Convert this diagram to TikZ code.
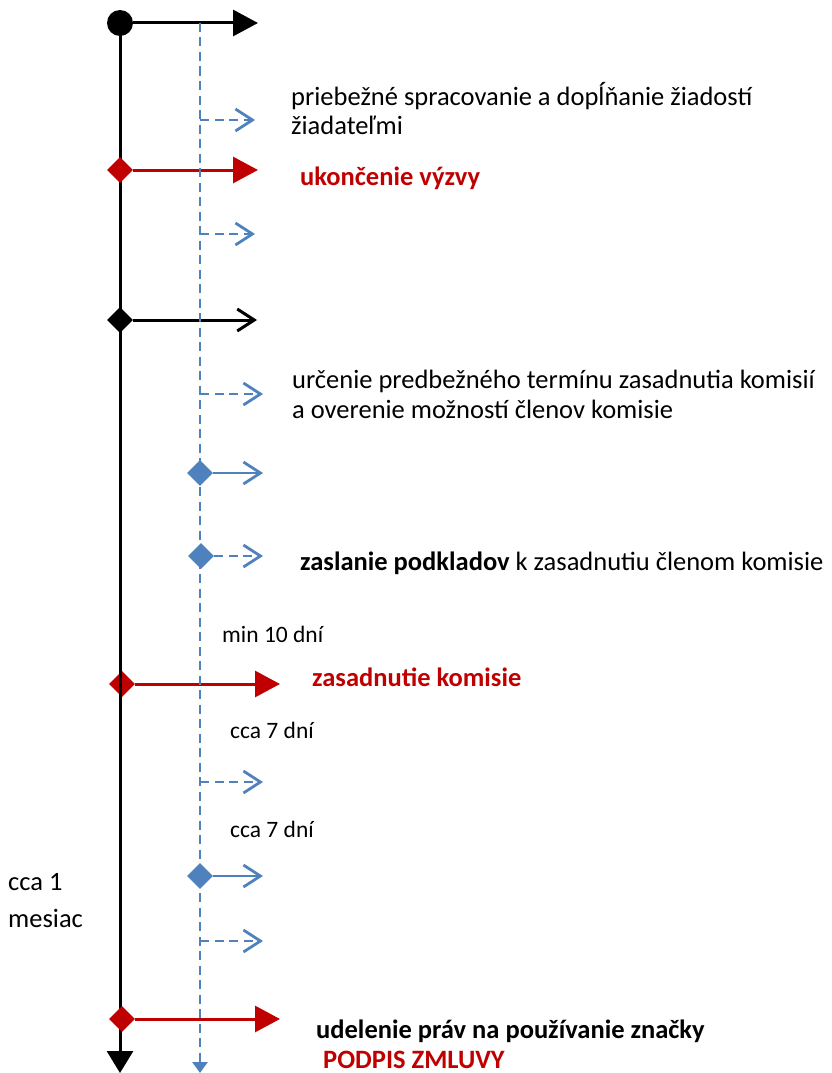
\documentclass[tikz,border=0pt]{standalone}
\usepackage{fontspec}
\setmainfont{Carlito}
\usetikzlibrary{arrows.meta,shapes.geometric}
\definecolor{tlblue}{HTML}{4F81BD}
\definecolor{tlred}{HTML}{C00000}

\begin{document}
\begin{tikzpicture}[x=1pt,y=-1pt,
  axis/.style={line width=3pt},
  bluedash/.style={tlblue,line width=2.8pt,dash pattern=on 9pt off 5.5pt},
  fulltip/.style={-{Triangle[length=25pt,width=26pt]}},
  opentip/.style={-{Straight Barb[length=17pt,width=22pt]}},
  rhomb/.style={diamond,inner sep=0pt,minimum size=26pt,fill=#1},
  lbl/.style={anchor=base west,inner sep=0pt,font=\fontsize{26.5}{30}\selectfont},
  small/.style={anchor=base west,inner sep=0pt,font=\fontsize{23.5}{27}\selectfont},
  strong/.style={font=\fontsize{26.5}{30}\selectfont\bfseries},
  hot/.style={strong,text=tlred}]
\useasboundingbox (0,0) rectangle (831,1073);

% main time axis
\node[circle,fill,inner sep=0pt,minimum size=26pt] (start) at (120,23) {};
\node[rhomb=tlred] (meet) at (122,684) {};
\coordinate (mainend) at (120,1073);
\draw[axis,-{Triangle[length=22pt,width=26pt]}] (start.center) -- (mainend);
\node[rhomb=tlred] (close) at (120,170) {};
\node[rhomb=black] (fix) at (120,320) {};
\node[rhomb=tlred] (grant) at (122,1019) {};

\coordinate (startE) at (258,23);
\coordinate (closeE) at (258,170);
\coordinate (fixE) at (257,320);
\coordinate (meetE) at (280,684);
\coordinate (grantE) at (280,1019);
\draw[axis,fulltip] (start) -- (startE);
\draw[axis,tlred,fulltip] (close) -- (closeE);
\draw[axis,opentip] (fix) -- (fixE);
\draw[axis,tlred,fulltip] (meet) -- (meetE);
\draw[axis,tlred,fulltip] (grant) -- (grantE);

% applicant side (blue)
\coordinate (bluetop) at (200,23);
\coordinate (blueend) at (200,1073);
\draw[bluedash,-{Triangle[length=11pt,width=15pt]}] (bluetop) -- (blueend);
\foreach \y/\x in {120/255,234/255,394/263,782/263,941/263}{
  \coordinate (q\y) at (200,\y);
  \coordinate (qe\y) at (\x,\y);
  \draw[bluedash,opentip] (q\y) -- (qe\y);
}
\node[rhomb=tlblue] (check) at (200,473) {};
\node[rhomb=tlblue] (send) at (201,556) {};
\node[rhomb=tlblue] (sign) at (200,876) {};
\coordinate (checkE) at (263,473);
\coordinate (sendE) at (263,556);
\coordinate (signE) at (263,876);
\draw[tlblue,line width=2.8pt,opentip] (check) -- (checkE);
\draw[bluedash,opentip] (send) -- (sendE);
\draw[tlblue,line width=2.8pt,opentip] (sign) -- (signE);

% labels
\node[lbl] (proc1) at (291,105) {priebežné spracovanie a dopĺňanie žiadostí};
\node[lbl] (proc2) at (291,134) {žiadateľmi};
\node[lbl,hot] (closeT) at (300,185) {ukončenie výzvy};
\node[lbl] (det1) at (292,388) {určenie predbežného termínu zasadnutia komisií};
\node[lbl] (det2) at (292,418) {a overenie možností členov komisie};
\node[lbl] (sendT) at (300,570) {\textbf{zaslanie podkladov} k zasadnutiu členom komisie};
\node[small] (gap1) at (222,642) {min 10 dní};
\node[lbl,hot] (meetT) at (312,686) {zasadnutie komisie};
\node[small] (gap2) at (230,738) {cca 7 dní};
\node[small] (gap3) at (230,837) {cca 7 dní};
\node[lbl] (month1) at (8,890) {cca 1};
\node[lbl] (month2) at (8,927) {mesiac};
\node[lbl,strong] (grantT) at (316,1038) {udelenie práv na používanie značky};
\node[lbl,hot] (signT) at (323,1068) {PODPIS ZMLUVY};
\end{tikzpicture}
\end{document}
